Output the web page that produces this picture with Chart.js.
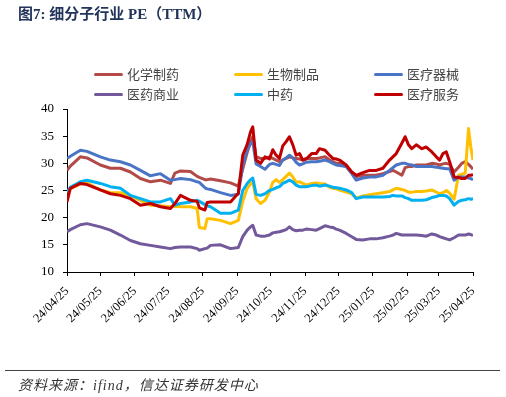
<!DOCTYPE html>
<html>
<head>
<meta charset="utf-8">
<script src="https://cdn.jsdelivr.net/npm/chart.js@4.4.1/dist/chart.umd.min.js"></script>
<style>
  html, body { margin: 0; padding: 0; background: #fff; }
  #wrap { position: relative; width: 506px; height: 397px; overflow: hidden; }
  #myChart { position: absolute; left: 0; top: 0; }
  .title { position: absolute; left: 18px; top: 2px; font: bold 15px "Liberation Serif", "Noto Sans CJK SC"; color: #22345a; white-space: nowrap; }
  .item { position: absolute; font: 13px "Noto Sans CJK SC"; color: #444; line-height: 16px; height: 16px; white-space: nowrap; }
  .item i { position: absolute; left: 0; top: 7px; width: 29px; height: 3px; border-radius: 1.5px; }
  .item span { margin-left: 33px; }
  .rule { position: absolute; left: 5px; top: 370px; width: 495px; height: 1px; background: #444; }
  .source { position: absolute; left: 18px; top: 374px; font: italic 14px "Liberation Serif", "Noto Sans CJK SC"; letter-spacing: 1px; color: #333; white-space: nowrap; }
</style>
</head>
<body>
<div id="wrap">
  <canvas id="myChart" width="506" height="397"></canvas>
  <div class="title">图7: 细分子行业 PE（TTM）</div>
  <div id="legend"></div>
  <div class="rule"></div>
  <div class="source">资料来源：ifind，信达证券研发中心</div>
</div>
<script>
// month ticks on the x axis
const tickLabels = ['24/04/25', '24/05/25', '24/06/25', '24/07/25', '24/08/25', '24/09/25', '24/10/25',
    '24/11/25', '24/12/25', '25/01/25', '25/02/25', '25/03/25', '25/04/25'];

// days since 2024-04-25
const days = [0, 3, 12, 18, 30, 39, 48, 57, 66, 75, 84, 93, 97, 102, 111, 117, 119, 124, 126, 129,
    138, 147, 154, 158, 162, 165, 167, 170, 174,
    178, 182, 185, 188, 191, 194, 197, 200, 203, 206, 209, 212, 215, 220, 224, 227, 232, 236, 239, 242,
    245, 251, 256, 260, 266, 272, 278, 284, 290, 293, 296, 301, 304, 307, 310, 314, 319, 323, 328, 332,
    335, 338, 341, 344, 348, 352, 355, 358, 361, 363, 365];

// 化学制药
const chemPharma = [28.7, 29.5, 31.2, 31.0, 29.7, 29.1, 29.1, 28.4, 27.2, 26.6, 26.9, 26.3, 28.2, 28.6, 28.5, 27.6, 27.4, 27.0, 27.0, 27.1,
    26.8, 26.4, 25.8, 29.0, 32.0, 34.0, 34.9, 31.2, 30.9,
    30.9, 31.2, 30.9, 30.6, 30.3, 30.6, 30.9, 31.2, 31.0, 30.9, 30.8, 30.6, 30.9, 30.9, 30.9, 31.0, 31.2, 30.6, 30.3, 30.0,
    30.0, 29.4, 28.3, 27.5, 27.8, 27.8, 27.8, 28.1, 28.5, 28.7, 28.4, 27.8, 29.2, 29.4, 29.4, 29.7, 29.7, 29.7, 30.0, 29.9,
    29.7, 29.9, 30.0, 29.8, 28.4, 29.3, 30.0, 30.3, 29.8, 29.4, 28.9];
// 生物制品
const bioProducts = [24.7, 25.3, 26.2, 26.4, 25.1, 24.6, 24.6, 24.0, 23.2, 22.3, 22.2, 22.0, 22.1, 22.0, 22.0, 21.7, 18.2, 18.0, 19.8, 19.8,
    19.5, 18.9, 19.5, 23.0, 25.4, 26.2, 26.6, 23.5, 22.6,
    23.2, 24.7, 26.5, 27.0, 26.5, 27.0, 27.6, 28.2, 27.5, 26.5, 26.6, 26.3, 26.0, 26.3, 26.4, 26.3, 26.2, 25.6, 25.4, 25.3,
    25.1, 24.7, 24.4, 23.6, 24.0, 24.2, 24.4, 24.6, 24.8, 25.1, 25.4, 25.2, 25.0, 24.7, 24.7, 24.8, 24.8, 24.9, 25.1, 24.7,
    24.4, 24.6, 25.0, 24.5, 23.4, 27.8, 28.0, 28.2, 36.4, 33.0, 30.6];
// 医疗器械
const medDevices = [30.9, 31.3, 32.4, 32.2, 31.2, 30.6, 30.3, 29.7, 28.7, 27.7, 28.1, 26.9, 27.0, 27.2, 27.0, 26.6, 26.5, 25.5, 25.3, 25.2,
    24.6, 24.1, 24.3, 29.5, 32.5, 33.6, 34.0, 29.9, 29.4,
    28.9, 29.8, 30.0, 29.8, 29.6, 30.6, 31.0, 31.5, 31.0, 30.2, 29.7, 29.9, 30.2, 30.3, 30.3, 30.4, 30.6, 30.3, 30.0, 29.7,
    29.6, 29.4, 28.1, 26.9, 27.3, 27.5, 27.5, 27.8, 28.7, 29.2, 29.7, 30.0, 30.0, 29.8, 29.7, 29.4, 29.4, 29.4, 29.4, 29.3,
    29.2, 29.1, 29.0, 29.0, 26.9, 27.5, 27.5, 27.5, 27.3, 27.2, 27.0];
// 医药商业
const pharmaCommerce = [17.4, 17.8, 18.7, 18.9, 18.3, 17.7, 16.8, 15.8, 15.2, 14.9, 14.6, 14.3, 14.5, 14.6, 14.6, 14.3, 14.0, 14.3, 14.4, 14.9,
    15.0, 14.3, 14.5, 16.5, 17.7, 18.3, 18.6, 16.8, 16.6,
    16.6, 16.8, 17.2, 17.3, 17.4, 17.6, 17.8, 18.3, 17.8, 17.6, 17.7, 17.7, 17.9, 17.8, 17.7, 18.0, 18.5, 18.3, 18.2, 17.9,
    17.7, 17.1, 16.5, 16.0, 15.9, 16.1, 16.1, 16.3, 16.6, 16.8, 17.1, 16.8, 16.8, 16.8, 16.8, 16.8, 16.7, 16.6, 17.0, 16.8,
    16.5, 16.3, 16.1, 15.9, 16.3, 16.8, 16.8, 16.8, 17.0, 16.9, 16.7];
// 中药
const tcm = [24.7, 25.6, 26.6, 26.9, 26.3, 25.7, 25.4, 24.1, 23.5, 22.9, 22.9, 23.5, 22.3, 22.6, 22.9, 23.2, 23.0, 22.4, 22.2, 22.0,
    20.8, 20.8, 21.4, 25.0, 26.3, 27.0, 27.3, 24.3, 24.1,
    24.4, 25.0, 25.2, 25.5, 25.7, 26.3, 26.6, 26.9, 26.6, 26.0, 25.7, 25.7, 25.7, 25.9, 26.0, 25.8, 26.0, 25.8, 25.6, 25.5,
    25.4, 25.1, 24.6, 23.5, 23.8, 23.8, 23.8, 23.8, 23.9, 24.1, 24.0, 24.0, 23.7, 23.5, 23.2, 23.2, 23.2, 23.3, 23.7, 23.9,
    24.1, 24.1, 24.0, 23.5, 22.3, 23.0, 23.2, 23.3, 23.5, 23.4, 23.5];
// 医疗服务
const medServices = [22.9, 25.4, 26.3, 26.1, 25.1, 24.4, 24.1, 23.5, 22.3, 22.6, 22.0, 21.7, 22.6, 24.1, 23.2, 23.0, 21.8, 21.4, 22.8, 22.9,
    22.9, 22.9, 24.5, 31.5, 33.5, 35.8, 36.7, 30.6, 30.0,
    31.2, 30.8, 32.5, 31.5, 30.9, 33.2, 34.0, 34.9, 33.4, 31.5, 31.8, 30.6, 30.8, 31.8, 31.8, 32.7, 32.4, 31.5, 30.9, 30.8,
    30.6, 29.7, 28.4, 27.8, 28.3, 28.7, 28.7, 29.1, 30.6, 31.2, 31.8, 33.7, 34.9, 33.4, 32.7, 33.4, 32.7, 33.0, 32.1, 31.2,
    30.6, 31.8, 32.1, 30.3, 27.5, 27.4, 27.2, 27.2, 27.8, 27.8, 27.9];

const series = [
    { name: '化学制药', values: chemPharma, color: '#b24a48', order: 5 },
    { name: '生物制品', values: bioProducts, color: '#ffc000', order: 4 },
    { name: '医疗器械', values: medDevices, color: '#4a74c4', order: 3 },
    { name: '医药商业', values: pharmaCommerce, color: '#72599c', order: 2 },
    { name: '中药', values: tcm, color: '#00b0f0', order: 1 },
    { name: '医疗服务', values: medServices, color: '#c00000', order: 0 }
];

function toDay(lbl) {
    const parts = lbl.split('/').map(Number);
    return (Date.UTC(2000 + parts[0], parts[1] - 1, parts[2]) - Date.UTC(2024, 3, 25)) / 86400000;
}
const tickDays = tickLabels.map(toDay);

// legend, 3 columns x 2 rows
const legendCols = [94, 234, 374];
const legendRows = [66, 86];
const legendBox = document.getElementById('legend');
series.forEach((s, i) => {
    const el = document.createElement('div');
    el.className = 'item';
    el.style.left = legendCols[i % 3] + 'px';
    el.style.top = legendRows[Math.floor(i / 3)] + 'px';
    el.innerHTML = '<i style="background:' + s.color + '"></i><span>' + s.name + '</span>';
    legendBox.appendChild(el);
});

const axisFont = { family: 'Liberation Serif', size: 13 };
const axisGrid = { display: true, drawOnChartArea: false, drawTicks: true, tickLength: 4, color: '#000' };

const ctx = document.getElementById('myChart').getContext('2d');
const chart = new Chart(ctx, {
    type: 'line',
    data: {
        datasets: series.map(s => ({
            label: s.name,
            data: days.map((d, j) => ({ x: d, y: s.values[j] })),
            borderColor: s.color,
            backgroundColor: s.color,
            borderWidth: 3,
            borderJoinStyle: 'round',
            pointRadius: 0,
            tension: 0,
            order: s.order
        }))
    },
    options: {
        responsive: false,
        animation: false,
        layout: { padding: { top: 109, right: 33, left: 0, bottom: 0 } },
        plugins: { legend: { display: false }, tooltip: { enabled: false } },
        scales: {
            x: {
                type: 'linear',
                min: 0,
                max: 365,
                afterBuildTicks: s => { s.ticks = tickDays.map(v => ({ value: v })); },
                afterFit: s => { s.height = 125; },
                grid: axisGrid,
                border: { color: '#000', width: 1 },
                ticks: {
                    autoSkip: false,
                    maxRotation: 45,
                    minRotation: 45,
                    padding: 8,
                    color: '#000',
                    font: { family: 'Liberation Serif', size: 12.5 },
                    callback: v => tickLabels[tickDays.indexOf(v)]
                }
            },
            y: {
                min: 10,
                max: 40,
                afterFit: s => { s.width = 67; },
                grid: axisGrid,
                border: { color: '#000', width: 1 },
                ticks: { stepSize: 5, padding: 9, color: '#000', font: axisFont }
            }
        }
    }
});
</script>
</body>
</html>
